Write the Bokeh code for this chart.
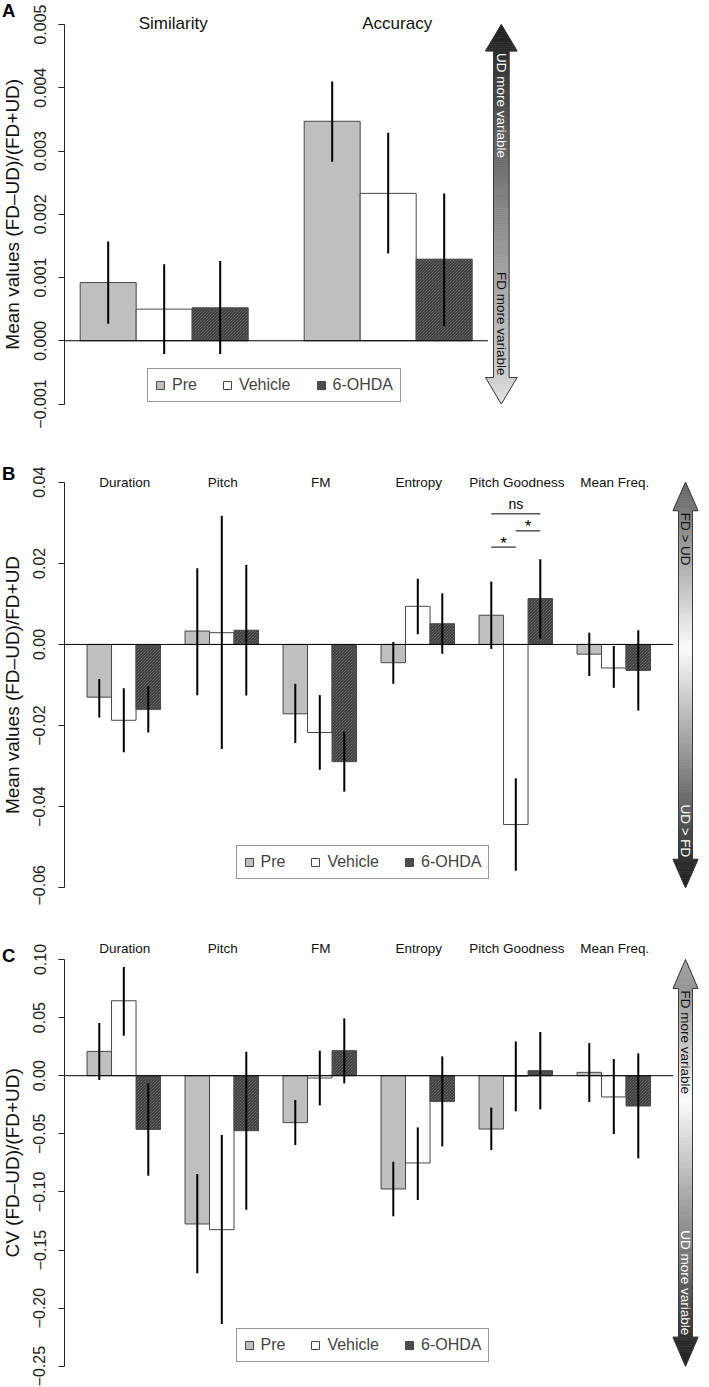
import numpy as np
from bokeh.plotting import figure
from bokeh.models import (ColumnDataSource, LinearAxis, FixedTicker, CustomJSTickFormatter,
                          Legend, LegendItem, Range1d)
from bokeh.layouts import column, row
from bokeh.embed import file_html
from bokeh.resources import INLINE
from bokeh.core.properties import value

# ------------------------------------------------------------------ data
CONDITIONS = ["Pre", "Vehicle", "6-OHDA"]

# Panel A
A_CATEGORIES = ["Similarity", "Accuracy"]
A_PRE = [0.00092, 0.00347]
A_PRE_LO = [0.00027, 0.00283]
A_PRE_HI = [0.00157, 0.00410]
A_VEH = [0.00050, 0.00233]
A_VEH_LO = [-0.00021, 0.00138]
A_VEH_HI = [0.00121, 0.00329]
A_OHDA = [0.00052, 0.00129]
A_OHDA_LO = [-0.00021, 0.00023]
A_OHDA_HI = [0.00126, 0.00233]
A_TICKS = [-0.001, 0.0, 0.001, 0.002, 0.003, 0.004, 0.005]
A_YLABEL = "Mean values (FD\u2013UD)/(FD+UD)"
A_ARROW_TEXT = ["UD more variable", "FD more variable"]

# Panel B
B_CATEGORIES = ["Duration", "Pitch", "FM", "Entropy", "Pitch Goodness", "Mean Freq."]
B_PRE = [-0.0130, 0.0033, -0.0171, -0.0045, 0.0072, -0.0024]
B_PRE_LO = [-0.0180, -0.0125, -0.0243, -0.0097, -0.0011, -0.0078]
B_PRE_HI = [-0.0085, 0.0188, -0.0097, 0.0006, 0.0155, 0.0029]
B_VEH = [-0.0187, 0.0029, -0.0217, 0.0094, -0.0444, -0.0058]
B_VEH_LO = [-0.0266, -0.0258, -0.0309, 0.0025, -0.0558, -0.0107]
B_VEH_HI = [-0.0108, 0.0317, -0.0125, 0.0162, -0.0330, -0.0004]
B_OHDA = [-0.0160, 0.0035, -0.0289, 0.0051, 0.0113, -0.0064]
B_OHDA_LO = [-0.0217, -0.0126, -0.0363, -0.0023, 0.0014, -0.0163]
B_OHDA_HI = [-0.0103, 0.0196, -0.0215, 0.0126, 0.0210, 0.0035]
B_TICKS = [-0.06, -0.04, -0.02, 0.0, 0.02, 0.04]
B_YLABEL = "Mean values (FD\u2013UD)/FD+UD"
B_ARROW_TEXT = ["FD > UD", "UD > FD"]
# significance brackets over "Pitch Goodness" (condition index pairs)
B_SIG_CATEGORY = "Pitch Goodness"
B_SIG_PAIRS = [(0, 2), (1, 2), (0, 1)]
B_SIG_LABELS = ["ns", "*", "*"]
B_SIG_Y = [0.0322, 0.0280, 0.0240]

# Panel C
C_CATEGORIES = ["Duration", "Pitch", "FM", "Entropy", "Pitch Goodness", "Mean Freq."]
C_PRE = [0.0209, -0.1276, -0.0404, -0.0975, -0.0459, 0.0029]
C_PRE_LO = [-0.0037, -0.1700, -0.0597, -0.1210, -0.0640, -0.0227]
C_PRE_HI = [0.0453, -0.0846, -0.0209, -0.0740, -0.0275, 0.0281]
C_VEH = [0.0645, -0.1325, -0.0020, -0.0751, -0.0003, -0.0183]
C_VEH_LO = [0.0344, -0.2137, -0.0255, -0.1070, -0.0307, -0.0502]
C_VEH_HI = [0.0935, -0.0510, 0.0215, -0.0445, 0.0295, 0.0143]
C_OHDA = [-0.0462, -0.0473, 0.0215, -0.0221, 0.0043, -0.0261]
C_OHDA_LO = [-0.0860, -0.1153, -0.0066, -0.0608, -0.0290, -0.0712]
C_OHDA_HI = [-0.0066, 0.0207, 0.0493, 0.0166, 0.0376, 0.0192]
C_TICKS = [-0.25, -0.20, -0.15, -0.10, -0.05, 0.0, 0.05, 0.10]
C_YLABEL = "CV (FD\u2013UD)/(FD+UD)"
C_ARROW_TEXT = ["FD more variable", "UD more variable"]

# ------------------------------------------------------------------ style / layout
FONT = "Liberation Sans"
TOTAL_W = 709
STRIP_W = 24             # left strip holding panel letter + y title
AXIS_W = 40              # room for the y axis (ticks + tick labels)
FRAME_LEFT = STRIP_W + AXIS_W   # page x of the y-axis line
MAIN_W = TOTAL_W - STRIP_W
EDGE = "#474747"
COND_STYLE = {
    "Pre": dict(fill_color="#bfbfbf"),
    "Vehicle": dict(fill_color="#ffffff"),
    "6-OHDA": dict(fill_color="#828282", hatch_pattern="\\", hatch_color="#2a2a2a",
                   hatch_scale=3, hatch_weight=1),
}


def gray(level):
    v = int(round(max(0, min(255, level))))
    return "#%02x%02x%02x" % (v, v, v)


def bare_figure(w, h, xr, yr, left=0):
    p = figure(width=w, height=h, x_range=xr, y_range=yr,
               x_axis_type=None, y_axis_type=None,
               output_backend="svg", toolbar_location=None,
               min_border_left=left, min_border_right=0,
               min_border_top=0, min_border_bottom=0)
    p.outline_line_color = None
    p.background_fill_color = "white"
    p.border_fill_color = "white"
    return p


def build_panel(letter, cats, means, lows, highs, ticks, digits, ylabel, arrow_text,
                fig_top, fig_h, tick_px, ppx, cat_font, cat_py, cat_dx,
                letter_py, legend_loc, arrow_geom, stops, sig=None):
    n = len(cats)
    tmin, tmax = min(ticks), max(ticks)
    t_top_px, t_bot_px = tick_px
    ppy = (t_bot_px - t_top_px) / (tmax - tmin)
    y_end = tmax + (t_top_px - fig_top) / ppy
    y_start = tmin - (fig_top + fig_h - t_bot_px) / ppy
    span = 4 * n - 1
    x_lo = 1 - 0.04 * span
    x_hi = 4 * n + 0.04 * span
    frame_w = MAIN_W - AXIS_W
    x_end = x_lo + frame_w / ppx

    def X(px):
        return x_lo + (px - FRAME_LEFT) / ppx

    def Y(py):
        return y_end - (py - fig_top) / ppy

    yr = Range1d(y_start, y_end)
    p = bare_figure(MAIN_W, fig_h, Range1d(x_lo, x_end), yr, left=AXIS_W)

    # bars
    renderers = []
    for ci, cond in enumerate(CONDITIONS):
        left = [1 + 4 * g + ci for g in range(n)]
        src = ColumnDataSource(dict(
            left=left, right=[l + 1 for l in left],
            top=[max(v, 0.0) for v in means[ci]],
            bottom=[min(v, 0.0) for v in means[ci]]))
        r = p.quad(left="left", right="right", top="top", bottom="bottom", source=src,
                   line_color=EDGE, line_width=1, **COND_STYLE[cond])
        renderers.append(r)

    # zero line across the plot region
    p.segment(x0=[x_lo], y0=[0.0], x1=[x_hi], y1=[0.0], line_color="black", line_width=1)

    # error bars
    for ci, cond in enumerate(CONDITIONS):
        xc = [1.5 + 4 * g + ci for g in range(n)]
        src = ColumnDataSource(dict(x=xc, lo=lows[ci], hi=highs[ci]))
        p.segment(x0="x", y0="lo", x1="x", y1="hi", source=src,
                  line_color="black", line_width=2)

    # category labels
    gx = [2.5 + 4 * g + cat_dx / ppx for g in range(n)]
    p.text(x=gx, y=[Y(cat_py)] * n, text=cats, text_font=value(FONT),
           text_font_size=cat_font, text_align="center", text_baseline="middle",
           text_color="#111111")

    # significance brackets
    if sig is not None:
        cat, pairs, labels, ys = sig
        g = cats.index(cat)
        for (a, b), lab, yv in zip(pairs, labels, ys):
            xa, xb = 1.5 + 4 * g + a, 1.5 + 4 * g + b
            p.segment(x0=[xa], y0=[yv], x1=[xb], y1=[yv], line_color="black", line_width=1)
            if lab == "ns":
                p.text(x=[(xa + xb) / 2], y=[yv + 9.5 / ppy], text=[lab], text_font=value(FONT),
                       text_font_size="14px", text_align="center", text_baseline="middle")
            else:
                p.text(x=[(xa + xb) / 2], y=[yv + 4.0 / ppy], text=[lab], text_font=value(FONT),
                       text_font_size="17px", text_align="center", text_baseline="middle")

    # y axis
    fmt = CustomJSTickFormatter(args=dict(d=digits), code="""
        const s = Math.abs(tick).toFixed(d);
        return (tick < -1e-12 ? "\u2212" : "") + s;
    """)
    ax = LinearAxis(ticker=FixedTicker(ticks=ticks), formatter=fmt, bounds=(tmin, tmax))
    ax.major_label_orientation = "parallel"
    ax.major_label_text_font = FONT
    ax.major_label_text_font_size = "16px"
    ax.major_label_text_color = "#222222"
    ax.major_label_standoff = 13
    ax.axis_line_color = "#222222"
    ax.major_tick_line_color = "#222222"
    ax.major_tick_out = 6
    ax.major_tick_in = 0
    ax.minor_tick_out = 0
    ax.minor_tick_in = 0
    p.add_layout(ax, "left")

    # legend
    legend = Legend(items=[LegendItem(label=c, renderers=[r]) for c, r in zip(CONDITIONS, renderers)],
                    orientation="horizontal", location=legend_loc)
    legend.label_text_font = FONT
    legend.label_text_font_size = "16px"
    legend.glyph_width = 10
    legend.glyph_height = 10
    legend.label_height = 18
    legend.label_standoff = 7
    legend.spacing = 25
    legend.padding = 7
    legend.margin = 0
    legend.border_line_color = "#333333"
    legend.border_line_width = 1
    legend.background_fill_color = "white"
    legend.background_fill_alpha = 1.0
    p.add_layout(legend)

    # gradient double arrow
    xc_px, shw_px, hhw_px, hl_px = arrow_geom
    xc = X(xc_px)
    shw, hhw, hl = shw_px / ppx, hhw_px / ppx, hl_px / ppy
    y_top, y_bot = tmax, tmin
    st, sb = y_top - hl, y_bot + hl
    sf = [s[0] for s in stops]
    sv = [s[1] for s in stops]
    pxs, pys, cols = [], [], []

    def add(ya, yb, wa, wb):
        frac = (y_top - (ya + yb) / 2) / (y_top - y_bot)
        pxs.append([xc - wa, xc + wa, xc + wb, xc - wb])
        pys.append([ya, ya, yb, yb])
        cols.append(gray(np.interp(frac, sf, sv)))

    ys = np.linspace(y_top, st, 13)
    for a, b in zip(ys[:-1], ys[1:]):
        add(a, b, hhw * (y_top - a) / hl, hhw * (y_top - b) / hl)
    ys = np.linspace(st, sb, 161)
    for a, b in zip(ys[:-1], ys[1:]):
        add(a, b, shw, shw)
    ys = np.linspace(sb, y_bot, 13)
    for a, b in zip(ys[:-1], ys[1:]):
        add(a, b, hhw * (a - y_bot) / hl, hhw * (b - y_bot) / hl)
    p.patches(pxs, pys, fill_color=cols, line_color=cols, line_width=0.7)
    ox = [xc, xc + hhw, xc + shw, xc + shw, xc + hhw, xc, xc - hhw, xc - shw, xc - shw, xc - hhw]
    oy = [y_top, st, st, sb, sb, y_bot, sb, sb, st, st]
    p.patch(ox, oy, fill_color=None, line_color="#3c3c3c", line_width=1)

    top_dark = np.interp(0.25, sf, sv) > 128
    bot_dark = np.interp(0.8, sf, sv) > 128
    p.text(x=[xc], y=[st - 2 / ppy], text=[arrow_text[0]], angle=-np.pi / 2,
           text_font=value(FONT), text_font_size="13.5px", text_align="left",
           text_baseline="middle", text_color="#111111" if top_dark else "white")
    p.text(x=[xc], y=[sb + 2 / ppy], text=[arrow_text[1]], angle=-np.pi / 2,
           text_font=value(FONT), text_font_size="13.5px", text_align="right",
           text_baseline="middle", text_color="#111111" if bot_dark else "white")

    # left strip: panel letter and y-axis title (shares the panel's y range)
    s = bare_figure(STRIP_W, fig_h, Range1d(0, STRIP_W), yr)
    s.text(x=[12], y=[(tmin + tmax) / 2], text=[ylabel], angle=np.pi / 2,
           text_font=value(FONT), text_font_size="19px", text_align="center",
           text_baseline="middle", text_color="#111111")
    s.text(x=[1.5], y=[Y(letter_py - 3.5)], text=[letter], text_font=value(FONT),
           text_font_size="18.5px", text_font_style="bold", text_align="left",
           text_baseline="top", text_color="black")
    return row(s, p, spacing=0)


pA = build_panel(
    "A", A_CATEGORIES, [A_PRE, A_VEH, A_OHDA], [A_PRE_LO, A_VEH_LO, A_OHDA_LO],
    [A_PRE_HI, A_VEH_HI, A_OHDA_HI], A_TICKS, 3, A_YLABEL, A_ARROW_TEXT,
    fig_top=0, fig_h=440, tick_px=(24.0, 403.5), ppx=56.0, cat_font="17px", cat_py=23,
    cat_dx=9, letter_py=3, legend_loc=(83, 38),
    arrow_geom=(500.8, 7.8, 15.8, 26.5),
    stops=[(0.0, 30), (0.07, 45), (0.5, 138), (0.93, 205), (1.0, 225)])

pB = build_panel(
    "B", B_CATEGORIES, [B_PRE, B_VEH, B_OHDA], [B_PRE_LO, B_VEH_LO, B_OHDA_LO],
    [B_PRE_HI, B_VEH_HI, B_OHDA_HI], B_TICKS, 2, B_YLABEL, B_ARROW_TEXT,
    fig_top=440, fig_h=465, tick_px=(481.7, 887.3), ppx=24.5, cat_font="13.5px", cat_py=481.5,
    cat_dx=1, letter_py=466, legend_loc=(171.5, 26),
    arrow_geom=(685.0, 7.0, 12.5, 28.5),
    stops=[(0.0, 100), (0.07, 122), (0.41, 252), (0.93, 48), (1.0, 34)],
    sig=(B_SIG_CATEGORY, B_SIG_PAIRS, B_SIG_LABELS, B_SIG_Y))

pC = build_panel(
    "C", C_CATEGORIES, [C_PRE, C_VEH, C_OHDA], [C_PRE_LO, C_VEH_LO, C_OHDA_LO],
    [C_PRE_HI, C_VEH_HI, C_OHDA_HI], C_TICKS, 2, C_YLABEL, C_ARROW_TEXT,
    fig_top=905, fig_h=482, tick_px=(959.0, 1365.7), ppx=24.5, cat_font="13.5px", cat_py=948,
    cat_dx=1, letter_py=948, legend_loc=(171.5, 24.7),
    arrow_geom=(685.0, 7.0, 12.5, 29.0),
    stops=[(0.0, 165), (0.07, 150), (0.35, 250), (0.93, 48), (1.0, 34)])

layout = column(pA, pB, pC, spacing=0)
open("out.html", "w").write(file_html(layout, INLINE))
